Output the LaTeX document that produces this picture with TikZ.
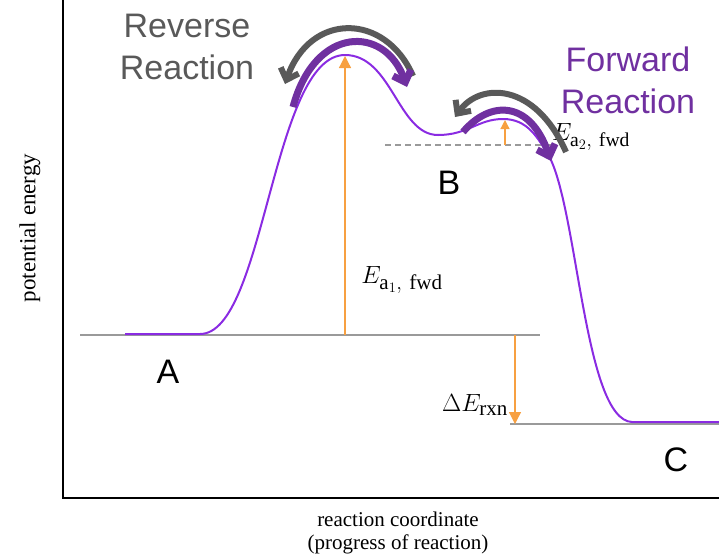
\documentclass[tikz,border=0pt]{standalone}
\usepackage{fontspec}
\setmainfont{Liberation Serif}
\newfontfamily\arialfont{Liberation Sans}
\usetikzlibrary{arrows.meta,positioning}
\definecolor{curve}{HTML}{8A2BE2}
\definecolor{purple}{HTML}{7030A0}
\definecolor{darkgray}{HTML}{595959}
\definecolor{linegray}{HTML}{9A9A9A}
\definecolor{eorange}{HTML}{F7A041}

\begin{document}
\begin{tikzpicture}[x=1pt,y=-1pt,
 big/.style={font=\arialfont\fontsize{34}{42}\selectfont,align=center},
 axislabel/.style={font=\fontsize{21}{22}\selectfont,align=center},
 elabel/.style={font=\fontsize{30}{32}\selectfont},
 level/.style={draw=linegray,line width=1.6pt},
 earr/.style={-{Triangle[length=12pt,width=12pt]},draw=eorange,fill=eorange,line width=1.25pt},
 revarr/.style={-{Straight Barb[length=10pt,width=19pt]},draw=darkgray,line width=6pt},
 fwdarr/.style={-{Straight Barb[length=10pt,width=19pt]},draw=purple,line width=7pt}
]
\useasboundingbox (0,0) rectangle (719,558);
% axes
\draw[line width=1.4pt] (63,0) -- (63,498) -- (719,498);
\node[axislabel,rotate=90,font=\fontsize{23}{24}\selectfont] (yl) at (30,228) {potential energy};
\node[axislabel] (xl) at (398,533) {reaction coordinate\\[1pt](progress of reaction)};

% energy levels
\coordinate (la) at (80,335); \coordinate (lb) at (540,335);
\draw[level] (la) -- (lb);
\coordinate (ca) at (510,424); \coordinate (cb) at (719,424);
\draw[level] (ca) -- (cb);
\coordinate (ba) at (385,145); \coordinate (bb) at (555,145);
\draw[level,line width=1.3pt,dash pattern=on 6pt off 4pt] (ba) -- (bb);

% reaction profile
\draw[curve,line width=2pt] (125,334) -- (200,334)
  .. controls (265,334) and (272,55) .. (345,55)
  .. controls (392,55) and (398,135) .. (438,135)
  .. controls (468,135) and (478,119) .. (503,119)
  .. controls (528,119) and (538,138) .. (550,158)
  .. controls (578,215) and (585,420) .. (632,422) -- (719,422);

% activation energies
\coordinate (p1) at (345,56); \coordinate (p1b) at (345,335);
\draw[earr] (p1b) -- (p1);
\coordinate (p2) at (505,120); \coordinate (p2b) at (505,145);
\draw[earr,-{Triangle[length=9pt,width=9pt]}] (p2b) -- (p2);
\coordinate (d1) at (515,335); \coordinate (d2) at (515,424);
\draw[earr] (d1) -- (d2);

\node[elabel] (ea1) at (402,280) {$E_{\mathrm{a}_1\mathrm{,\ fwd}}$};
\node[elabel,font=\fontsize{28}{30}\selectfont] (ea2) at (591,137) {$E_{\mathrm{a}_2\mathrm{,\ fwd}}$};
\node[elabel] (dE) at (475,405) {$\Delta E_{\mathrm{rxn}}$};

% states
\node[big] (A) at (168,372) {A};
\node[big] (B) at (449,183) {B};
\node[big] (C) at (676,460) {C};

% direction arrows
\node[big,text=darkgray] (rev) at (187,47) {Reverse\\Reaction};
\node[big,text=purple] (fwd) at (628,80) {Forward\\Reaction};
\coordinate (r1) at (413,76); \coordinate (r2) at (285,84);
\draw[revarr] (r1) .. controls (385,12) and (310,12) .. (r2);
\coordinate (f1) at (293,107); \coordinate (f2) at (407,87);
\draw[fwdarr] (f1) .. controls (315,25) and (385,25) .. (f2);
\coordinate (r3) at (566,152); \coordinate (r4) at (455,117);
\draw[revarr] (r3) .. controls (535,82) and (480,82) .. (r4);
\coordinate (f3) at (463,132); \coordinate (f4) at (551,161);
\draw[fwdarr] (f3) .. controls (490,100) and (530,100) .. (f4);
\end{tikzpicture}
\end{document}
